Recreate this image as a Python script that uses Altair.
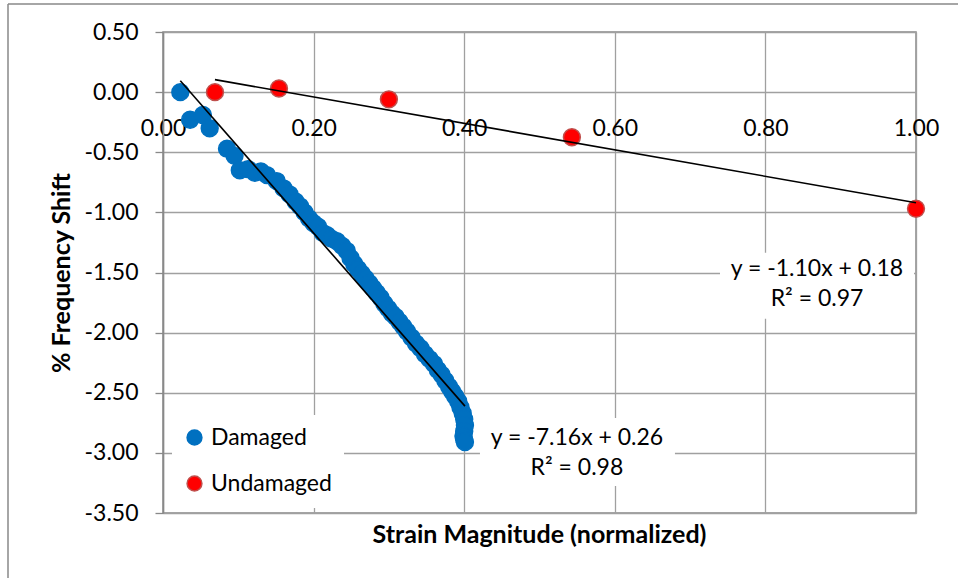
import altair as alt
import pandas as pd

# ---------------- data ----------------
dmg_x = [0.023, 0.036, 0.053, 0.062, 0.085, 0.095, 0.102, 0.113, 0.122, 0.130,
         0.138, 0.151, 0.160, 0.168, 0.176, 0.182, 0.188, 0.194, 0.200, 0.206,
         0.212, 0.218, 0.224, 0.231, 0.238, 0.244, 0.249, 0.254, 0.259, 0.264,
         0.269, 0.274, 0.279, 0.284, 0.289, 0.294, 0.299, 0.304, 0.309, 0.314,
         0.319, 0.324, 0.330, 0.336, 0.342, 0.348, 0.354, 0.360, 0.365, 0.370,
         0.375, 0.380, 0.384, 0.388, 0.392, 0.395, 0.398, 0.400, 0.401, 0.400,
         0.399, 0.400, 0.401]
dmg_y = [0.00, -0.23, -0.19, -0.30, -0.47, -0.53, -0.65, -0.64, -0.67, -0.66,
         -0.69, -0.74, -0.80, -0.85, -0.91, -0.95, -1.00, -1.05, -1.09, -1.12,
         -1.17, -1.19, -1.22, -1.24, -1.28, -1.32, -1.38, -1.43, -1.47, -1.51,
         -1.55, -1.59, -1.63, -1.67, -1.71, -1.76, -1.80, -1.84, -1.87, -1.91,
         -1.95, -1.99, -2.04, -2.09, -2.13, -2.18, -2.22, -2.26, -2.31, -2.35,
         -2.40, -2.45, -2.49, -2.53, -2.57, -2.62, -2.67, -2.72, -2.77, -2.82,
         -2.86, -2.89, -2.91]
und_x = [0.069, 0.154, 0.300, 0.543, 1.000]
und_y = [0.00, 0.03, -0.06, -0.375, -0.97]

series = ["Damaged", "Undamaged"]
fill_colors = ["#0070C0", "#FF0000"]
stroke_colors = ["#0070C0", "#C0504D"]
slopes = [-7.16, -1.10]
intercepts = [0.26, 0.18]
r2_values = [0.98, 0.97]

x_ticks = [0.0, 0.2, 0.4, 0.6, 0.8, 1.0]
y_ticks = [-3.5, -3.0, -2.5, -2.0, -1.5, -1.0, -0.5, 0.0, 0.5]

assert len(dmg_x) == len(dmg_y)

# ---------------- tables ----------------
points = pd.DataFrame({
    "x": dmg_x + und_x,
    "y": dmg_y + und_y,
    "series": [series[0]] * len(dmg_x) + [series[1]] * len(und_x),
})

xs_by_series = [dmg_x, und_x]
trend_rows = []
label_rows = []
for s, xs, m, b, r2 in zip(series, xs_by_series, slopes, intercepts, r2_values):
    x0, x1 = min(xs), max(xs)
    trend_rows.append({"series": s, "x": x0, "y": m * x0 + b})
    trend_rows.append({"series": s, "x": x1, "y": m * x1 + b})
    sign = "-" if b < 0 else "+"
    label_rows.append({
        "series": s, "x": x1, "y": m * x1 + b,
        "text": f"y = {m:.2f}x {sign} {abs(b):.2f}\nR\u00b2 = {r2:.2f}",
    })
trend = pd.DataFrame(trend_rows)
labels = pd.DataFrame(label_rows)

# ---------------- layout ----------------
W, H = 753, 481
YMIN, YMAX = -3.5, 0.5
FONT = "Lato"
FS = 23
TFS = 25
GRID = "#A0A0A0"
BORDER = "#898989"
LABEL_EXPR = "datum.value < 0 ? '-' + format(-datum.value, '.2f') : format(datum.value, '.2f')"

x_scale = alt.Scale(domain=[0, 1], nice=False)
y_scale = alt.Scale(domain=[YMIN, YMAX], nice=False)
x_axis_offset = -H * (0 - YMIN) / (YMAX - YMIN)

x_enc = alt.X("x:Q", scale=x_scale, axis=alt.Axis(
    values=x_ticks, labelExpr=LABEL_EXPR, title=None, domain=False, ticks=False,
    tickSize=0, labelPadding=25, offset=x_axis_offset, grid=True,
    gridColor=GRID, gridWidth=1.3, labelFont=FONT, labelFontSize=FS,
    labelColor="black", labelFlush=False))
y_enc = alt.Y("y:Q", scale=y_scale, axis=alt.Axis(
    values=y_ticks, labelExpr=LABEL_EXPR, title="% Frequency Shift",
    titleFont=FONT, titleFontSize=TFS, titleFontWeight="bold", titleColor="black",
    titlePadding=10, domain=True, domainColor=BORDER, domainWidth=1.5,
    ticks=True, tickSize=8, tickColor=BORDER, tickWidth=1.3,
    labelPadding=17, grid=True, gridColor=GRID, gridWidth=1.3,
    labelFont=FONT, labelFontSize=FS, labelColor="black"))

# outer chart-area frame (top and left edges only are inside the picture)
one = alt.Data(values=[{}])
frame_top = alt.Chart(one).mark_rule(color=BORDER, strokeWidth=1.5, clip=False).encode(
    x=alt.value(-155), x2=alt.value(W + 120), y=alt.value(-28))
frame_left = alt.Chart(one).mark_rule(color=BORDER, strokeWidth=1.5, clip=False).encode(
    x=alt.value(-155), y=alt.value(-28), y2=alt.value(H + 80))

pts = alt.Chart(points).mark_circle(size=285, opacity=1, strokeWidth=1.5).encode(
    x=x_enc, y=y_enc,
    color=alt.Color("series:N", scale=alt.Scale(domain=series, range=fill_colors),
                    legend=alt.Legend(title=None)),
    stroke=alt.Stroke("series:N", scale=alt.Scale(domain=series, range=stroke_colors),
                      legend=alt.Legend(title=None)),
)

lines = alt.Chart(trend).mark_line(color="black", strokeWidth=1.6).encode(
    x="x:Q", y="y:Q", detail="series:N")

# label boxes and texts, anchored at the end of each trend line
offsets = {
    "Damaged": dict(box=(15, 210, 12, 80), txt=(112, 32)),
    "Undamaged": dict(box=(-196, -2, 50, 116), txt=(-99, 66)),
}
ann_layers = []
text_layers = []
for s in series:
    o = offsets[s]
    sub = labels[labels["series"] == s]
    bx0, bx1, by0, by1 = o["box"]
    ann_layers.append(alt.Chart(sub).mark_rect(
        fill="white", xOffset=bx0, x2Offset=bx1, yOffset=by0, y2Offset=by1
    ).encode(x="x:Q", x2="x:Q", y="y:Q", y2="y:Q"))
    tx, ty = o["txt"]
    text_layers.append(alt.Chart(sub).mark_text(
        dx=tx, dy=ty, align="center", baseline="middle", lineBreak="\n",
        lineHeight=30, font=FONT, fontSize=FS, color="black"
    ).encode(x="x:Q", y="y:Q", text="text:N"))

chart = alt.layer(frame_top, frame_left, *ann_layers, pts, lines, *text_layers).properties(
    width=W, height=H,
    padding={"left": 163, "top": 32, "right": 42, "bottom": 65},
    autosize=alt.AutoSizeParams(type="none"),
    title=alt.TitleParams("Strain Magnitude (normalized)", orient="bottom",
                          anchor="middle", font=FONT, fontSize=TFS,
                          fontWeight="bold", color="black", offset=-71),
).configure_view(stroke=BORDER, strokeWidth=1.5).configure_legend(
    orient="none", legendX=9, legendY=383, fillColor="white", padding=11,
    labelFont=FONT, labelFontSize=FS, labelColor="black", symbolSize=220,
    symbolType="circle", symbolStrokeWidth=1.5, rowPadding=22, labelOffset=5,
    labelLimit=300, strokeColor="white"
)

chart.save("out.html", embed_options={"renderer": "svg", "actions": False})
